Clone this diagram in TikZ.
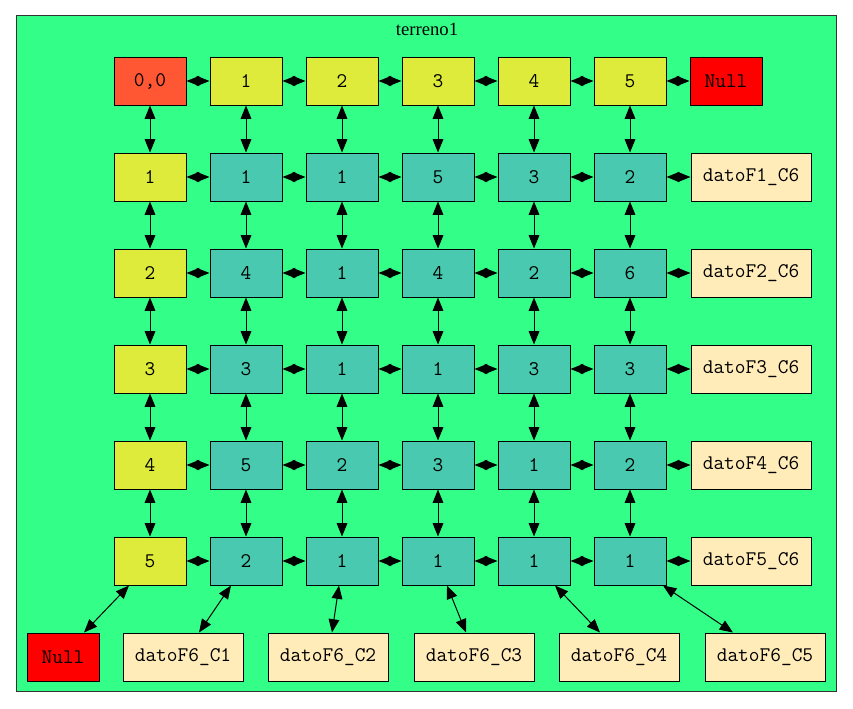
\documentclass[tikz,border=0pt]{standalone}
\usepackage{fontspec}
\setmainfont{Liberation Serif}
\usetikzlibrary{arrows.meta}
\definecolor{bggreen}{RGB}{51,255,136}
\definecolor{cellteal}{RGB}{72,201,176}
\definecolor{cellyellow}{RGB}{223,235,58}
\definecolor{cellorange}{RGB}{255,87,51}
\definecolor{cellcream}{RGB}{255,236,185}
\definecolor{cellred}{RGB}{255,0,0}
\begin{document}
\begin{tikzpicture}[x=0.75pt,y=-0.75pt,
  box/.style={draw=black, line width=0.75pt, minimum width=54pt, minimum height=36pt, inner sep=0pt, font=\ttfamily\fontsize{15.6}{17}\selectfont},
  widebox/.style={box, minimum width=90pt},
  tealbox/.style={box, fill=cellteal},
  yellowbox/.style={box, fill=cellyellow},
  orangebox/.style={box, fill=cellorange},
  redbox/.style={box, fill=cellred},
  creambox/.style={widebox, fill=cellcream},
  vedge/.style={{Triangle[length=10pt,width=8pt]}-{Triangle[length=10pt,width=8pt]}, line width=0.75pt},
  hedge/.style={{Triangle[length=9.6pt,width=7.5pt]}-{Triangle[length=9.6pt,width=7.5pt]}, line width=0.75pt}
]
\fill[white] (0,0) rectangle (853,708);
\draw[draw=black!80, line width=0.75pt, fill=bggreen] (16.5,15.5) rectangle (836.5,691.5);
\node[font=\fontsize{14}{16}\selectfont] (title) at (427,29) {terreno1};

% header row
\node[orangebox] (n0-0) at (150,81) {0,0};
\foreach \c in {1,...,5} {
  \node[yellowbox] (n0-\c) at ({150+96*\c},81) {\c};
}
\node[redbox] (e0) at (726,81) {Null};

% header column
\foreach \r in {1,...,5} {
  \node[yellowbox] (n\r-0) at (150,{81+96*\r}) {\r};
  \node[creambox] (e\r) at (751,{81+96*\r}) {datoF\r\_C6};
}

% grid
\foreach \r/\a/\b/\c/\d/\e in {1/1/1/5/3/2, 2/4/1/4/2/6, 3/3/1/1/3/3, 4/5/2/3/1/2, 5/2/1/1/1/1} {
  \node[tealbox] (n\r-1) at (246,{81+96*\r}) {\a};
  \node[tealbox] (n\r-2) at (342,{81+96*\r}) {\b};
  \node[tealbox] (n\r-3) at (438,{81+96*\r}) {\c};
  \node[tealbox] (n\r-4) at (534,{81+96*\r}) {\d};
  \node[tealbox] (n\r-5) at (630,{81+96*\r}) {\e};
}

% bottom row
\node[redbox] (b0) at (63,657) {Null};
\node[creambox] (b1) at (183,657) {datoF6\_C1};
\node[creambox] (b2) at (328,657) {datoF6\_C2};
\node[creambox] (b3) at (474,657) {datoF6\_C3};
\node[creambox] (b4) at (619,657) {datoF6\_C4};
\node[creambox] (b5) at (765,657) {datoF6\_C5};

% horizontal edges
\foreach \r in {0,...,5} {
  \foreach \c [evaluate=\c as \nx using int(\c+1)] in {0,...,4} {
    \draw[hedge] (n\r-\c) -- (n\r-\nx);
  }
  \draw[hedge] (n\r-5) -- (e\r);
}

% vertical edges
\foreach \c in {0,...,5} {
  \foreach \r [evaluate=\r as \nx using int(\r+1)] in {0,...,4} {
    \draw[vedge] (n\r-\c) -- (n\nx-\c);
  }
}

% bottom diagonal edges
\draw[vedge] ([xshift=-15.75pt]n5-0.south) -- ([xshift=15.75pt]b0.north);
\draw[vedge] ([xshift=-11.25pt]n5-1.south) -- ([xshift=12pt]b1.north);
\draw[vedge] ([xshift=-2.25pt]n5-2.south) -- ([xshift=3pt]b2.north);
\draw[vedge] ([xshift=6.75pt]n5-3.south) -- ([xshift=-6pt]b3.north);
\draw[vedge] ([xshift=15.75pt]n5-4.south) -- ([xshift=-14.25pt]b4.north);
\draw[vedge] ([xshift=24.75pt]n5-5.south) -- ([xshift=-24pt]b5.north);
\end{tikzpicture}
\end{document}
